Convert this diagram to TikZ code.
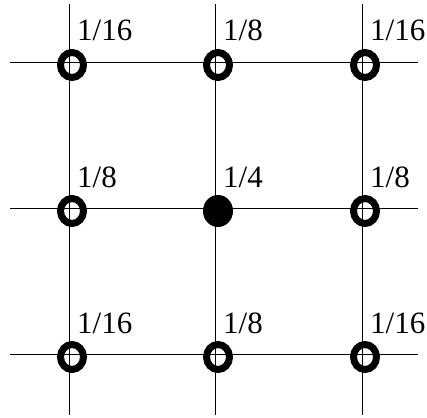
\documentclass[tikz,border=0pt]{standalone}
\usepackage{fontspec}
\setmainfont{Liberation Serif}
\usetikzlibrary{shapes.geometric, positioning}

\begin{document}
\begin{tikzpicture}[
    x=1pt, y=-1pt,
    every node/.style={font=\fontsize{31}{31}\selectfont},
    gridline/.style={draw=black, line width=0.9pt},
    ring/.style={ellipse, draw=black, line width=7pt, inner sep=0pt, minimum width=23pt, minimum height=25pt},
    disc/.style={ellipse, draw=black, fill=black, line width=1pt, inner sep=0pt, minimum width=29pt, minimum height=31pt},
    weight/.style={anchor=base west, inner sep=0pt}
]
\useasboundingbox (0,0) rectangle (427,417);

% grid
\foreach \x in {69,215,362}
    \draw [gridline] (\x,4) -- (\x,415);
\foreach \y in {62,208,354}
    \draw [gridline] (10,\y) -- (418,\y);

% taps with their weights
\foreach \name/\x/\y/\w in {nw/69/62/1\slash16, n/215/62/1\slash8, ne/362/62/1\slash16,
                            w/69/208/1\slash8, e/362/208/1\slash8,
                            sw/69/354/1\slash16, s/215/354/1\slash8, se/362/354/1\slash16}
{
    \node (t\name) [ring] at (\x+3,\y+3) {};
    \node (w\name) [weight] at (\x+8,\y-21) {\w};
}
\node (tc) [disc] at (218,211) {};
\node (wc) [weight] at (223,187) {1\slash4};
\end{tikzpicture}
\end{document}
